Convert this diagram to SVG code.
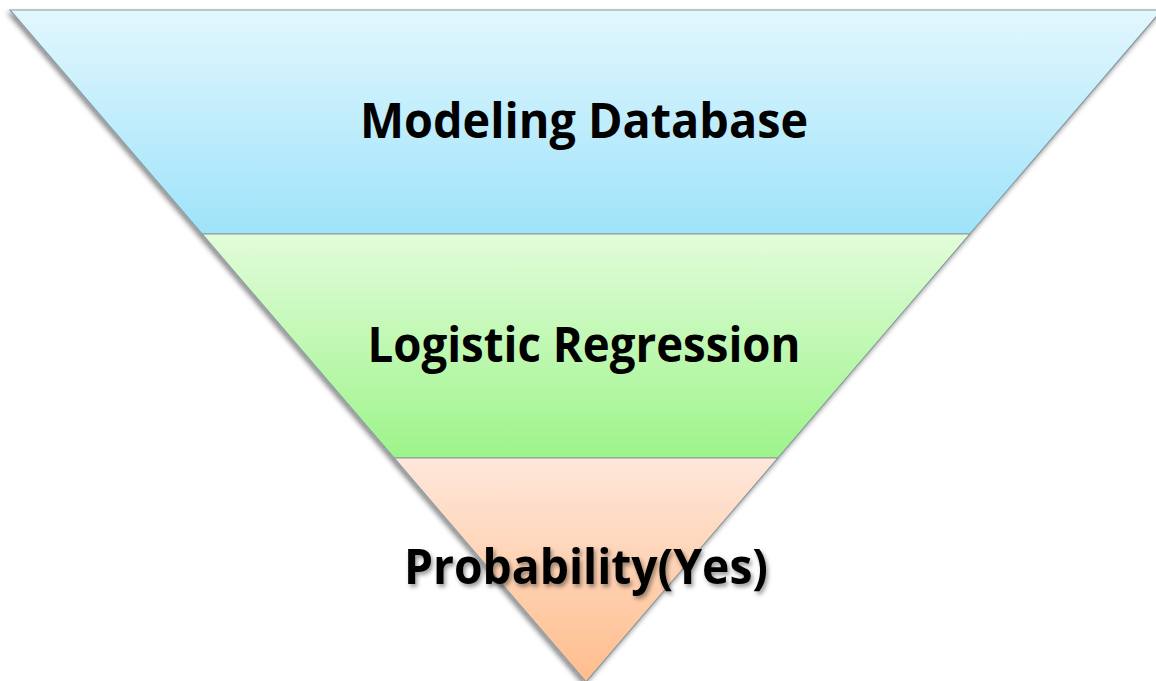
<svg xmlns="http://www.w3.org/2000/svg" width="1156" height="681" viewBox="0 0 1156 681">
<defs>
<linearGradient id="gBlue" x1="0" y1="0" x2="0" y2="1"><stop offset="0" stop-color="#e2f7fe"/><stop offset="1" stop-color="#9ee3fa"/></linearGradient>
<linearGradient id="gGreen" x1="0" y1="0" x2="0" y2="1"><stop offset="0" stop-color="#e2fcda"/><stop offset="1" stop-color="#9df48a"/></linearGradient>
<linearGradient id="gOrange" x1="0" y1="0" x2="0" y2="1"><stop offset="0" stop-color="#fee7da"/><stop offset="1" stop-color="#ffbd8c"/></linearGradient>
<filter id="shadow" x="-10%" y="-10%" width="120%" height="120%"><feDropShadow dx="-2" dy="3" stdDeviation="2.5" flood-color="#000" flood-opacity="0.45"/></filter>
<filter id="tshadow" x="-10%" y="-20%" width="120%" height="140%"><feDropShadow dx="2" dy="3" stdDeviation="2" flood-color="#000" flood-opacity="0.4"/></filter>
<style>
.band{stroke:#8a9aa0;stroke-width:1.2;}
.lbl{font-family:"Open Sans","Liberation Sans",sans-serif;font-weight:bold;font-size:48px;fill:#000;text-anchor:middle;}
</style>
</defs>
<g filter="url(#shadow)">
<g id="band1"><polygon class="band" points="10,10 1162,10 970,234 202,234" fill="url(#gBlue)"/></g>
<g id="band2"><polygon class="band" points="202,234 970,234 778,458 394,458" fill="url(#gGreen)"/></g>
<g id="band3"><polygon class="band" points="394,458 778,458 586,682" fill="url(#gOrange)"/></g>
</g>
<g id="labels">
<text class="lbl" x="584" y="138" textLength="448" lengthAdjust="spacingAndGlyphs">Modeling Database</text>
<text class="lbl" x="584" y="362" textLength="433" lengthAdjust="spacingAndGlyphs">Logistic Regression</text>
<text class="lbl" x="586" y="584" textLength="364" lengthAdjust="spacingAndGlyphs" filter="url(#tshadow)">Probability(Yes)</text>
</g>
<g id="connectors"/>
</svg>
